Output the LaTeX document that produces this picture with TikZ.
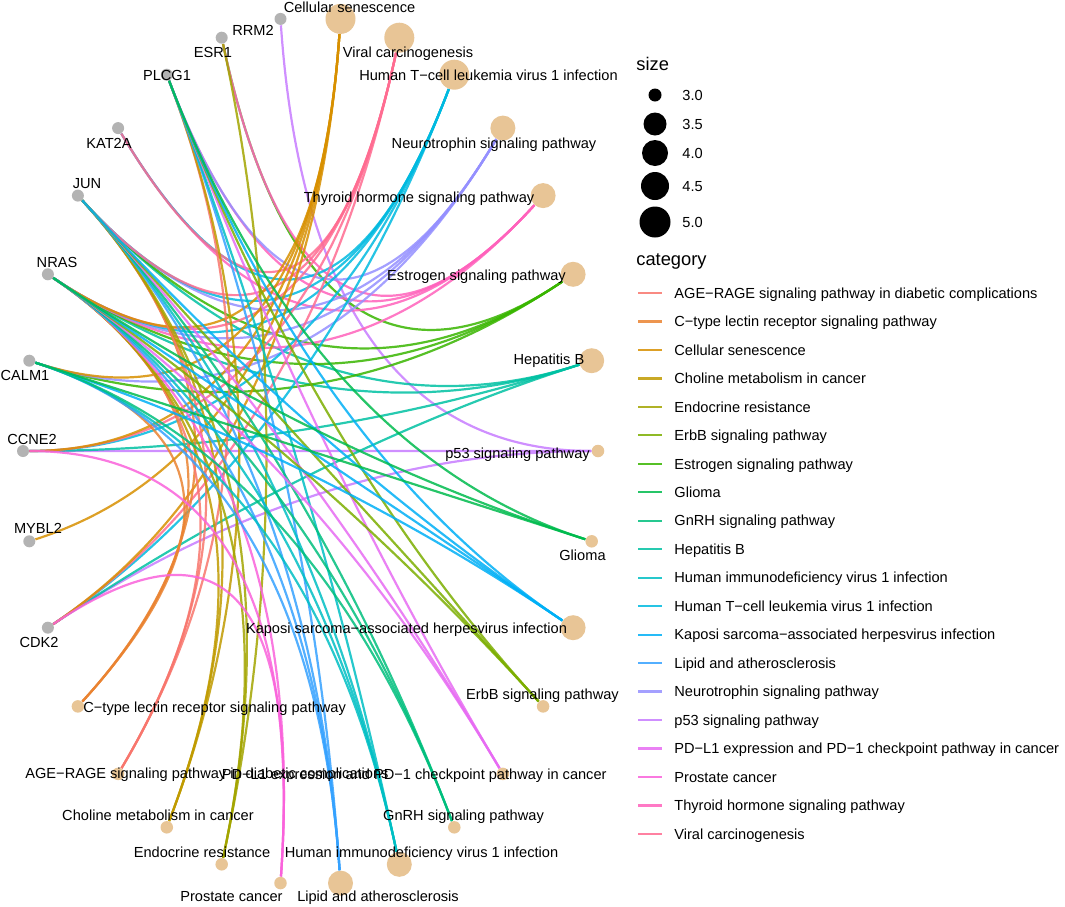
\documentclass[tikz,border=0pt]{standalone}
\usepackage{fontspec}
\setmainfont{Liberation Sans}
\usetikzlibrary{calc,backgrounds}

\definecolor{geneGrey}{HTML}{B3B3B3}
\definecolor{termTan}{HTML}{E8C596}
\definecolor{cAGE}{HTML}{F8766D}
\definecolor{cCtype}{HTML}{EA8331}
\definecolor{cCell}{HTML}{D89000}
\definecolor{cChol}{HTML}{C09B00}
\definecolor{cEndo}{HTML}{A3A500}
\definecolor{cErbB}{HTML}{7CAE00}
\definecolor{cEstr}{HTML}{39B600}
\definecolor{cGlio}{HTML}{00BB4E}
\definecolor{cGnRH}{HTML}{00BF7D}
\definecolor{cHepB}{HTML}{00C1A3}
\definecolor{cHIV}{HTML}{00BFC4}
\definecolor{cHTLV}{HTML}{00BAE0}
\definecolor{cKSHV}{HTML}{00B0F6}
\definecolor{cLipid}{HTML}{35A2FF}
\definecolor{cNeuro}{HTML}{9590FF}
\definecolor{cPtf}{HTML}{C77CFF}
\definecolor{cPDL}{HTML}{E76BF3}
\definecolor{cPros}{HTML}{FA62DB}
\definecolor{cThyr}{HTML}{FF62BC}
\definecolor{cViral}{HTML}{FF6C91}

\begin{document}
\begin{tikzpicture}[x=0.5pt,y=-0.5pt,
  gene/.style={shape=circle,fill=geneGrey,inner sep=0pt,minimum size=6pt},
  term/.style={shape=circle,fill=termTan,inner sep=0pt,minimum size=#1},
  lbl/.style={font=\fontsize{7.3}{9}\selectfont,inner sep=0pt,text height=5.2pt,text depth=0pt},
  ttl/.style={font=\fontsize{9.15}{11}\selectfont,inner sep=0pt,anchor=west},
  link/.style={line width=1.1pt,opacity=.85,
    to path={.. controls ($(\tikztostart)!.667!(O)$) and ($(\tikztotarget)!.667!(O)$) .. (\tikztotarget)}}]

    \useasboundingbox (0,0) rectangle (1065,906);
    \coordinate (O) at (310.5,451);

    % genes
    \node[gene] (RRM2) at (280.5,18.9) {};
    \node[gene] (ESR1) at (221.7,37.7) {};
    \node[gene] (PLCG1) at (166.8,74.7) {};
    \node[gene] (KAT2A) at (118.1,128.1) {};
    \node[gene] (JUN) at (77.9,195.6) {};
    \node[gene] (NRAS) at (47.9,274.3) {};
    \node[gene] (CALM1) at (29.3,360.7) {};
    \node[gene] (CCNE2) at (23,451) {};
    \node[gene] (MYBL2) at (29.3,541.3) {};
    \node[gene] (CDK2) at (47.9,627.7) {};

    % pathways
    \node[term=6.25pt] (Ptf) at (598,451) {};
    \node[term=12.5pt] (HepB) at (591.7,360.7) {};
    \node[term=12.5pt] (Estr) at (573.1,274.3) {};
    \node[term=12.5pt] (Thyr) at (543.1,195.6) {};
    \node[term=12.5pt] (Neuro) at (502.9,128.1) {};
    \node[term=15pt] (HTLV) at (454.3,74.7) {};
    \node[term=15pt] (Viral) at (399.3,37.7) {};
    \node[term=15pt] (Cell) at (340.5,18.9) {};
    \node[term=6.25pt] (Ctype) at (77.9,706.4) {};
    \node[term=6.25pt] (AGE) at (118.1,773.9) {};
    \node[term=6.25pt] (Chol) at (166.8,827.3) {};
    \node[term=6.25pt] (Endo) at (221.7,864.3) {};
    \node[term=6.25pt] (Pros) at (280.5,883.1) {};
    \node[term=12.5pt] (Lipid) at (340.5,883.1) {};
    \node[term=12.5pt] (HIV) at (399.3,864.3) {};
    \node[term=6.25pt] (GnRH) at (454.3,827.3) {};
    \node[term=6.25pt] (PDL) at (502.9,773.9) {};
    \node[term=6.25pt] (ErbB) at (543.1,706.4) {};
    \node[term=12.5pt] (KSHV) at (573.1,627.7) {};
    \node[term=6.25pt] (Glio) at (591.7,541.3) {};

    \begin{scope}[on background layer]
    \fill[white] (0,0) rectangle (1065,906);
    \path[link,color=cPtf] (Ptf) edge (CCNE2) edge (CDK2) edge (RRM2);
    \path[link,color=cHepB] (HepB) edge (CCNE2) edge (CDK2) edge (JUN) edge (NRAS);
    \path[link,color=cEstr] (Estr) edge (CALM1) edge (ESR1) edge (JUN) edge (NRAS);
    \path[link,color=cThyr] (Thyr) edge (ESR1) edge (KAT2A) edge (NRAS) edge (PLCG1);
    \path[link,color=cNeuro] (Neuro) edge (CALM1) edge (JUN) edge (NRAS) edge (PLCG1);
    \path[link,color=cHTLV] (HTLV) edge (CCNE2) edge (CDK2) edge (JUN) edge (KAT2A) edge (NRAS);
    \path[link,color=cViral] (Viral) edge (CCNE2) edge (CDK2) edge (JUN) edge (KAT2A) edge (NRAS);
    \path[link,color=cCell] (Cell) edge (CALM1) edge (CCNE2) edge (CDK2) edge (MYBL2) edge (NRAS);
    \path[link,color=cCtype] (Ctype) edge (CALM1) edge (JUN) edge (NRAS);
    \path[link,color=cAGE] (AGE) edge (JUN) edge (NRAS) edge (PLCG1);
    \path[link,color=cChol] (Chol) edge (JUN) edge (NRAS) edge (PLCG1);
    \path[link,color=cEndo] (Endo) edge (ESR1) edge (JUN) edge (NRAS);
    \path[link,color=cPros] (Pros) edge (CCNE2) edge (CDK2) edge (NRAS);
    \path[link,color=cLipid] (Lipid) edge (CALM1) edge (JUN) edge (NRAS) edge (PLCG1);
    \path[link,color=cHIV] (HIV) edge (CALM1) edge (JUN) edge (NRAS) edge (PLCG1);
    \path[link,color=cGnRH] (GnRH) edge (CALM1) edge (JUN) edge (NRAS);
    \path[link,color=cPDL] (PDL) edge (JUN) edge (NRAS) edge (PLCG1);
    \path[link,color=cErbB] (ErbB) edge (JUN) edge (NRAS) edge (PLCG1);
    \path[link,color=cKSHV] (KSHV) edge (CALM1) edge (JUN) edge (NRAS) edge (PLCG1);
    \path[link,color=cGlio] (Glio) edge (CALM1) edge (NRAS) edge (PLCG1);
    \end{scope}

    % gene labels
    \node[lbl] (lRRM2) at (253,30) {RRM2};
    \node[lbl] (lESR1) at (213,52) {ESR1};
    \node[lbl] (lPLCG1) at (167,75) {PLCG1};
    \node[lbl] (lKAT2A) at (109,143) {KAT2A};
    \node[lbl] (lJUN) at (87,183) {JUN};
    \node[lbl] (lNRAS) at (57,262) {NRAS};
    \node[lbl] (lCALM1) at (25,375) {CALM1};
    \node[lbl] (lCCNE2) at (32,439) {CCNE2};
    \node[lbl] (lMYBL2) at (38,528) {MYBL2};
    \node[lbl] (lCDK2) at (39,642) {CDK2};

    % pathway labels
    \node[lbl] (lCell) at (349.5,7) {Cellular senescence};
    \node[lbl] (lViral) at (408,52) {Viral carcinogenesis};
    \node[lbl] (lHTLV) at (488.5,75) {Human T−cell leukemia virus 1 infection};
    \node[lbl] (lNeuro) at (494,143) {Neurotrophin signaling pathway};
    \node[lbl] (lThyr) at (419,197) {Thyroid hormone signaling pathway};
    \node[lbl] (lEstr) at (476.5,275) {Estrogen signaling pathway};
    \node[lbl] (lHepB) at (549,359) {Hepatitis B};
    \node[lbl] (lPtf) at (517.5,453) {p53 signaling pathway};
    \node[lbl] (lGlio) at (582.5,555) {Glioma};
    \node[lbl] (lKSHV) at (406.5,628) {Kaposi sarcoma−associated herpesvirus infection};
    \node[lbl] (lErbB) at (542.5,694) {ErbB signaling pathway};
    \node[lbl,anchor=east] (lPDL) at (607,774) {PD−L1 expression and PD−1 checkpoint pathway in cancer};
    \node[lbl,anchor=west] (lAGE) at (25,773) {AGE−RAGE signaling pathway in diabetic complications};
    \node[lbl,anchor=west] (lCtype) at (83,707) {C−type lectin receptor signaling pathway};
    \node[lbl] (lChol) at (158,815) {Choline metabolism in cancer};
    \node[lbl] (lEndo) at (202,852) {Endocrine resistance};
    \node[lbl] (lPros) at (231.5,896) {Prostate cancer};
    \node[lbl] (lLipid) at (378,896) {Lipid and atherosclerosis};
    \node[lbl] (lHIV) at (421.5,852) {Human immunodeficiency virus 1 infection};
    \node[lbl] (lGnRH) at (463.5,815) {GnRH signaling pathway};

    % legend: size
    \node[ttl] (sizeT) at (636,64) {size};
    \foreach \v/\d/\y in {3.0/6.5pt/95, 3.5/11.5pt/124, 4.0/13pt/153, 4.5/14pt/186, 5.0/15.5pt/222}{
      \node[shape=circle,fill=black,inner sep=0pt,minimum size=\d] (dot\v) at (655,\y) {};
      \node[lbl,anchor=west] (val\v) at (682,\y) {\v};
    }

    % legend: category
    \node[ttl] (catT) at (636,261) {category};
    \foreach \c/\t [count=\i from 0] in {cAGE/AGE−RAGE signaling pathway in diabetic complications,
        cCtype/C−type lectin receptor signaling pathway, cCell/Cellular senescence,
        cChol/Choline metabolism in cancer, cEndo/Endocrine resistance, cErbB/ErbB signaling pathway,
        cEstr/Estrogen signaling pathway, cGlio/Glioma, cGnRH/GnRH signaling pathway,
        cHepB/Hepatitis B, cHIV/Human immunodeficiency virus 1 infection,
        cHTLV/Human T−cell leukemia virus 1 infection,
        cKSHV/Kaposi sarcoma−associated herpesvirus infection, cLipid/Lipid and atherosclerosis,
        cNeuro/Neurotrophin signaling pathway, cPtf/p53 signaling pathway,
        cPDL/PD−L1 expression and PD−1 checkpoint pathway in cancer, cPros/Prostate cancer,
        cThyr/Thyroid hormone signaling pathway, cViral/Viral carcinogenesis}{
      \coordinate (k\i) at (638,293+28.47*\i);
      \draw[color=\c,line width=1.1pt,opacity=.85] (k\i) -- ++(24,0);
      \node[lbl,anchor=west] (cat\i) at (674,293+28.47*\i) {\t};
    }
\end{tikzpicture}
\end{document}
